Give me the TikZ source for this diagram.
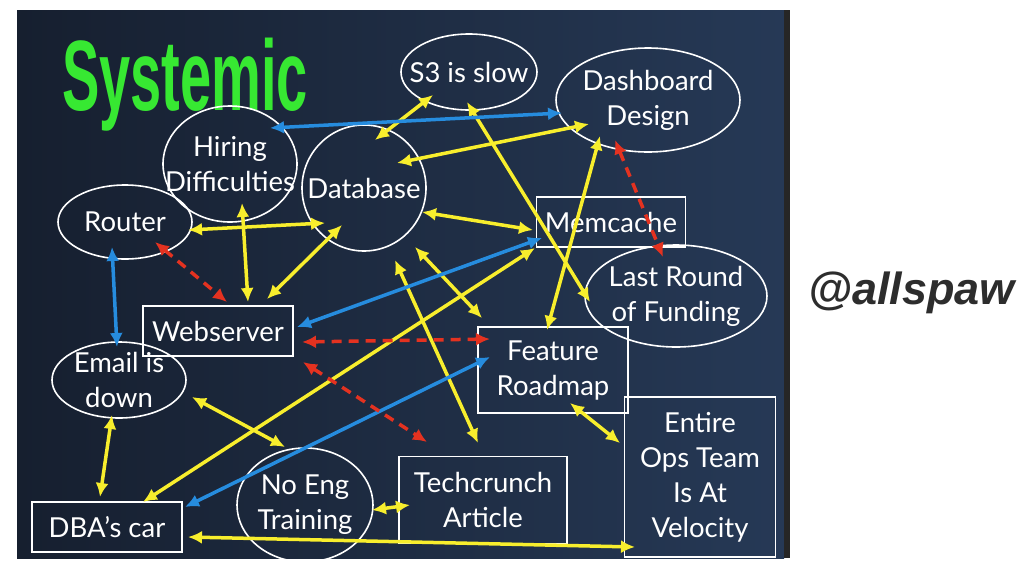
\documentclass[tikz,border=0pt]{standalone}
\usepackage{fontspec}
\setmainfont{Lato}
\newfontfamily\headfont{Liberation Sans}
\usetikzlibrary{shapes.geometric}
\usetikzlibrary{arrows.meta}
\usetikzlibrary{calc}

\definecolor{panelleft}{RGB}{22,31,47}
\definecolor{panelright}{RGB}{38,57,86}
\definecolor{titlegreen}{RGB}{55,232,50}
\definecolor{arrowyellow}{RGB}{248,238,45}
\definecolor{arrowblue}{RGB}{38,140,222}
\definecolor{arrowred}{RGB}{228,50,32}
\definecolor{taggray}{RGB}{45,45,45}

\newcommand{\lblfont}{\fontsize{27.5}{35}\selectfont}

\tikzset{
  oval/.style={ellipse, draw=white, line width=1.6pt, inner sep=0pt},
  box/.style={rectangle, draw=white, line width=1.8pt, text=white, align=center, font=\lblfont, inner sep=0pt},
  every label/.style={text=white, align=center, font=\lblfont},
  yarr/.style={draw=arrowyellow, line width=3.5pt, {Latex[length=14pt,width=13pt]}-{Latex[length=14pt,width=13pt]}},
  barr/.style={draw=arrowblue, line width=3.5pt, {Latex[length=14pt,width=13pt]}-{Latex[length=14pt,width=13pt]}},
  rarr/.style={draw=arrowred, line width=3.5pt, dash pattern=on 10pt off 7pt, {Latex[length=14pt,width=13pt]}-{Latex[length=14pt,width=13pt]}}
}

\begin{document}
\begin{tikzpicture}[x=1pt,y=-1pt]
        % page and slide
        \useasboundingbox (0,0) rectangle (1024,576);
        \fill[white] (0,0) rectangle (1024,576);
        \shade[left color=panelleft, right color=panelright] (17,10) rectangle (784,558);
        \fill[black!85] (784,10) rectangle (790,558);
        \begin{scope}
        \clip (17,10) rectangle (784,558);
        \node[anchor=base west, inner sep=0pt, text=titlegreen,
              font=\headfont\bfseries\fontsize{100}{100}\selectfont] (ttl) at (62,110) {\scalebox{0.56}[1]{Systemic}};
        % ovals
        \node[oval, minimum width=134, minimum height=116, label={center:Hiring\\Difficulties}] (hd) at (230,164) {};
        \node[oval, minimum width=134, minimum height=74, label={center:Router}] (rt) at (125,222) {};
        \node[oval, minimum width=124, minimum height=126, label={center:Database}] (db) at (364,188) {};
        \node[oval, minimum width=136, minimum height=76, label={center:S3 is slow}] (s3) at (469,72) {};
        \node[oval, minimum width=184, minimum height=104, label={center:Dashboard\\Design}] (dd) at (648,100) {};
        \node[oval, minimum width=182, minimum height=102, label={center:Last Round\\of Funding}] (lr) at (676,296) {};
        \node[oval, minimum width=134, minimum height=76, label={center:Email is\\down}] (em) at (119,380) {};
        \node[oval, minimum width=136, minimum height=114, label={center:No Eng\\Training}] (ne) at (305,505) {};
        % boxes
        \node[box, minimum width=149, minimum height=50] (mc) at (611,222) {Memcache};
        \node[box, minimum width=150, minimum height=50] (ws) at (218,331) {Webserver};
        \node[box, minimum width=150, minimum height=50] (dba) at (107,527) {DBA’s car};
        \node[box, minimum width=150, minimum height=86] (fr) at (553,370) {Feature\\Roadmap};
        \node[box, minimum width=151, minimum height=160] (eo) at (700,477) {Entire\\Ops Team\\Is At\\Velocity};
        \node[box, minimum width=168, minimum height=87] (tc) at (483,500) {Techcrunch\\Article};
        % yellow links
        \draw[yarr] ($(rt)+(63,8)$) -- ($(db)+(-39,35)$);
        \draw[yarr] ($(hd)+(12,39)$) -- ($(ws)+(30,-29)$);
        \draw[yarr] ($(db)+(-22,37)$) -- ($(ws)+(49,-32)$);
        \draw[yarr] ($(s3)+(-36,23)$) -- ($(db)+(11,-48)$);
        \draw[yarr] ($(dd)+(-59,24)$) -- ($(db)+(33,-25)$);
        \draw[yarr] ($(s3)+(-2,30)$) -- ($(lr)+(-86,6)$);
        \draw[yarr] ($(db)+(58,24)$) -- ($(mc)+(-78,8)$);
        \draw[yarr] ($(dd)+(-48,36)$) -- ($(fr)+(-6,-40)$);
        \draw[yarr] ($(db)+(51,59)$) -- ($(fr)+(-71,-52)$);
        \draw[yarr] ($(db)+(31,72)$) -- ($(tc)+(-5,-57)$);
        \draw[yarr] ($(mc)+(-76,26)$) -- ($(dba)+(36,-25)$);
        \draw[yarr] ($(em)+(73,17)$) -- ($(ne)+(-20,-58)$);
        \draw[yarr] ($(em)+(-7,35)$) -- ($(dba)+(-7,-30)$);
        \draw[yarr] ($(ne)+(67,5)$) -- ($(tc)+(-73,5)$);
        \draw[yarr] ($(dba)+(81,10)$) -- ($(eo)+(-65,70)$);
        \draw[yarr] ($(fr)+(17,33)$) -- ($(eo)+(-80,-34)$);
        % blue links
        \draw[barr] ($(hd)+(40,-36)$) -- ($(dd)+(-86,13)$);
        \draw[barr] ($(rt)+(-13,25)$) -- ($(em)+(-2,-33)$);
        \draw[barr] ($(mc)+(-69,16)$) -- ($(ws)+(79,-4)$);
        \draw[barr] ($(fr)+(-63,-13)$) -- ($(dba)+(78,-20)$);
        % red dashed links
        \draw[rarr] ($(rt)+(30,20)$) -- ($(ws)+(9,-29)$);
        \draw[rarr] ($(ws)+(84,11)$) -- ($(fr)+(-63,-31)$);
        \draw[rarr] ($(ws)+(85,31)$) -- ($(tc)+(-56,-58)$);
        \draw[rarr] ($(dd)+(-33,40)$) -- ($(lr)+(-13,-39)$);
        \end{scope}
        \node[anchor=base west, inner sep=0pt, text=taggray,
              font=\headfont\bfseries\itshape\fontsize{45}{45}\selectfont] (who) at (808,304) {@allspaw};
\end{tikzpicture}
\end{document}
